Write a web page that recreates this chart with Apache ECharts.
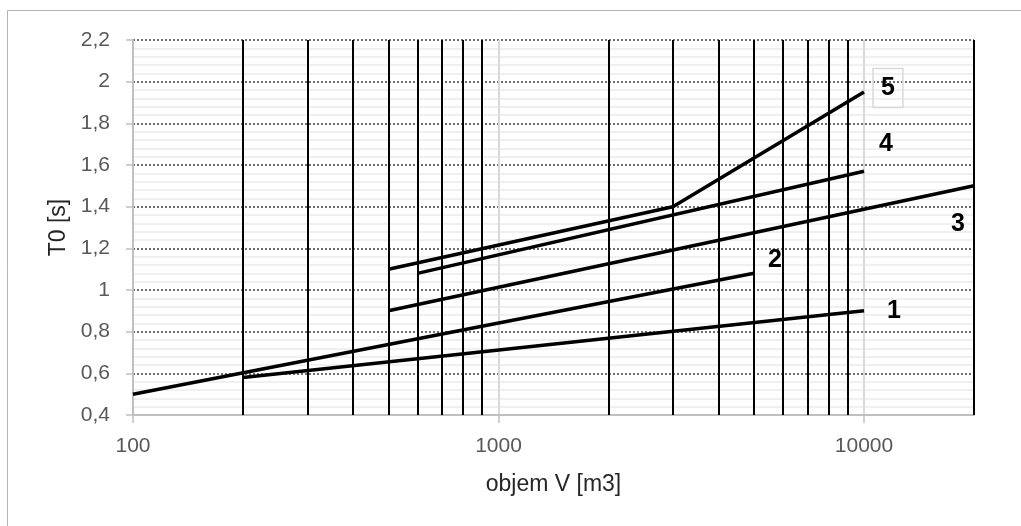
<!DOCTYPE html>
<html>
<head>
<meta charset="utf-8">
<script src="https://cdn.jsdelivr.net/npm/echarts@6/dist/echarts.min.js"></script>
<style>html,body{margin:0;padding:0;background:#fff;}#c{width:1021px;height:526px;}</style>
</head>
<body>
<div id="c"></div>
<script>
// ---- data ----
const line1X = [200, 10000];
const line1Y = [0.58, 0.9];
const line2X = [100, 5000];
const line2Y = [0.5, 1.08];
const line3X = [500, 20000];
const line3Y = [0.9, 1.5];
const line4X = [600, 10000];
const line4Y = [1.08, 1.57];
const line5X = [500, 3000, 10000];
const line5Y = [1.1, 1.4, 1.95];
const lineNames = ['1', '2', '3', '4', '5'];
const verticalLines = [200, 300, 400, 500, 600, 700, 800, 900, 2000, 3000, 4000, 5000, 6000, 7000, 8000, 9000, 20000];
const xTicks = [100, 1000, 10000];
const yMin = 0.4, yMax = 2.2, yStep = 0.2;
const xMin = 100, xMax = 20000;
const xTitle = 'objem V [m3]';
const yTitle = 'T0 [s]';

// ---- build ----
const lines = [[line1X, line1Y], [line2X, line2Y], [line3X, line3Y], [line4X, line4Y], [line5X, line5Y]];
const labelOffsets = [[30, 0], [21, -13], [-16, 38], [22, -27], [24, -4]];
const FONT = 'Liberation Sans';

const chart = echarts.init(document.getElementById('c'), null, {renderer: 'canvas'});

const series = lines.map(function (ln, i) {
  const xs = ln[0], ys = ln[1];
  const data = xs.map(function (x, j) {
    const d = {value: [x, ys[j]]};
    if (j === xs.length - 1) {
      const lbl = {
        show: true,
        formatter: lineNames[i],
        position: 'inside',
        offset: labelOffsets[i],
        align: 'center',
        verticalAlign: 'middle',
        fontFamily: FONT,
        fontWeight: 'bold',
        fontSize: 25,
        color: '#000'
      };
      if (i === 4) {
        lbl.borderColor = '#d9d9d9';
        lbl.borderWidth = 1.5;
        lbl.padding = [8, 8, 6, 8];
      }
      d.label = lbl;
    }
    return d;
  });
  return {
    type: 'line',
    name: lineNames[i],
    data: data,
    showSymbol: true,
    symbol: 'circle',
    symbolSize: 1,
    itemStyle: {color: 'rgba(0,0,0,0)', borderWidth: 0},
    lineStyle: {color: '#000', width: 3.5},
    z: 5,
    silent: true,
    animation: false
  };
});

series.unshift({
  type: 'line',
  data: [],
  z: 2,
  silent: true,
  animation: false,
  markLine: {
    silent: true,
    symbol: ['none', 'none'],
    label: {show: false},
    animation: false,
    lineStyle: {color: '#000', width: 2, type: 'solid'},
    emphasis: {disabled: true},
    data: verticalLines.map(function (v) { return {xAxis: v}; })
  }
});

const option = {
  backgroundColor: '#fff',
  animation: false,
  graphic: [{
    type: 'rect',
    shape: {x: 7.5, y: 10.5, width: 1200, height: 700},
    style: {fill: 'none', stroke: '#b4b4b4', lineWidth: 1},
    silent: true
  }],
  grid: {left: 133, right: 47, top: 40, bottom: 111, containLabel: false},
  xAxis: {
    type: 'log',
    logBase: 10,
    min: xMin,
    max: xMax,
    name: xTitle,
    nameLocation: 'middle',
    nameGap: 58,
    nameTextStyle: {fontFamily: FONT, fontSize: 23, color: '#262626'},
    axisLine: {show: true, lineStyle: {color: '#bfbfbf', width: 2}},
    axisTick: {show: true, length: 8, customValues: xTicks, lineStyle: {color: '#bfbfbf', width: 1.5}},
    axisLabel: {
      customValues: xTicks,
      margin: 21,
      fontFamily: FONT,
      fontSize: 21,
      color: '#595959',
      formatter: function (v) { return xTicks.indexOf(Math.round(v)) >= 0 ? String(Math.round(v)) : ''; }
    },
    splitLine: {show: true, lineStyle: {color: '#d9d9d9', width: 2}},
    minorTick: {show: false},
    minorSplitLine: {show: false}
  },
  yAxis: {
    type: 'value',
    min: yMin,
    max: yMax,
    interval: yStep,
    name: yTitle,
    nameLocation: 'middle',
    nameGap: 63,
    nameTextStyle: {fontFamily: FONT, fontSize: 23, color: '#262626'},
    axisLine: {show: true, lineStyle: {color: '#bfbfbf', width: 2}},
    axisTick: {show: true, length: 7, lineStyle: {color: '#bfbfbf', width: 1.5}},
    axisLabel: {
      margin: 23,
      fontFamily: FONT,
      fontSize: 21,
      color: '#595959',
      formatter: function (v) { return String(Math.round(v * 10) / 10).replace('.', ','); }
    },
    splitLine: {show: true, lineStyle: {color: '#404040', width: 1.5, type: [2, 2]}},
    minorTick: {show: false, splitNumber: 5},
    minorSplitLine: {show: true, lineStyle: {color: '#f0f0f0', width: 2}}
  },
  series: series
};
chart.setOption(option);
</script>
</body>
</html>
